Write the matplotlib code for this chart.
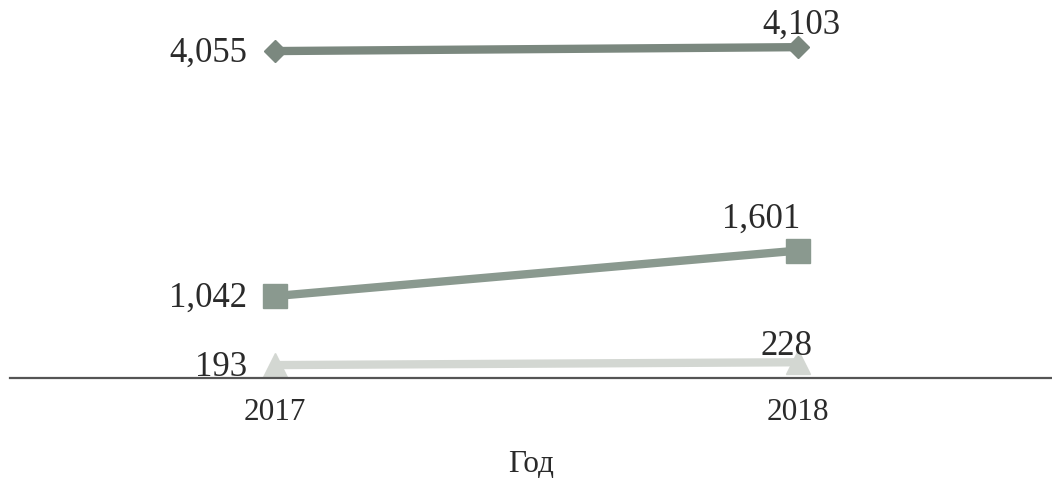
import numpy as np
import matplotlib
matplotlib.use('Agg')
import matplotlib.pyplot as plt

plt.rcParams['font.family'] = ['Liberation Serif', 'DejaVu Serif']

# data
years = ['2017', '2018']
series_top = [4055, 4103]
series_mid = [1042, 1601]
series_low = [193, 228]
xlabel = 'Год'

x = np.arange(len(years))

fig = plt.figure(figsize=(10.52, 4.78), dpi=100)
ax = fig.add_axes([0.0095, 0.209, 0.9905, 0.791])

ax.plot(x, series_top, color='#7b887f', lw=6, marker='D', ms=11, solid_capstyle='butt')
ax.plot(x, series_mid, color='#8a998f', lw=6, marker='s', ms=17, solid_capstyle='butt')
ax.plot(x, series_low, color='#d3d7d2', lw=6, marker='^', ms=17, solid_capstyle='butt')

# value labels: first point to the left, second point above
fs = 25
tc = '#2a2a2a'
def fmt(v):
    return f'{v:,}'

for vals, off2 in [(series_top, (4, 22)), (series_mid, (-37, 31)), (series_low, (-11, 16))]:
    ax.annotate(fmt(vals[0]), (x[0], vals[0]), xytext=(-28, -2), textcoords='offset pixels',
                ha='right', va='center', fontsize=fs, color=tc)
    ax.annotate(fmt(vals[1]), (x[1], vals[1]), xytext=off2, textcoords='offset pixels',
                ha='center', va='center', fontsize=fs, color=tc)

ax.set_xlim(-0.507, 1.486)
ax.set_ylim(33, 4683)
ax.set_xticks(x)
ax.set_xticklabels(years, fontsize=22.5, color=tc)
ax.tick_params(axis='x', length=0, pad=14)
ax.set_yticks([])
ax.set_xlabel(xlabel, fontsize=22.5, color=tc, labelpad=17)

for s in ['top', 'right', 'left']:
    ax.spines[s].set_visible(False)
ax.spines['bottom'].set_color('#555555')
ax.spines['bottom'].set_linewidth(1.6)
ax.set_facecolor('white')
fig.patch.set_facecolor('white')

fig.savefig('out.png', dpi=100)
